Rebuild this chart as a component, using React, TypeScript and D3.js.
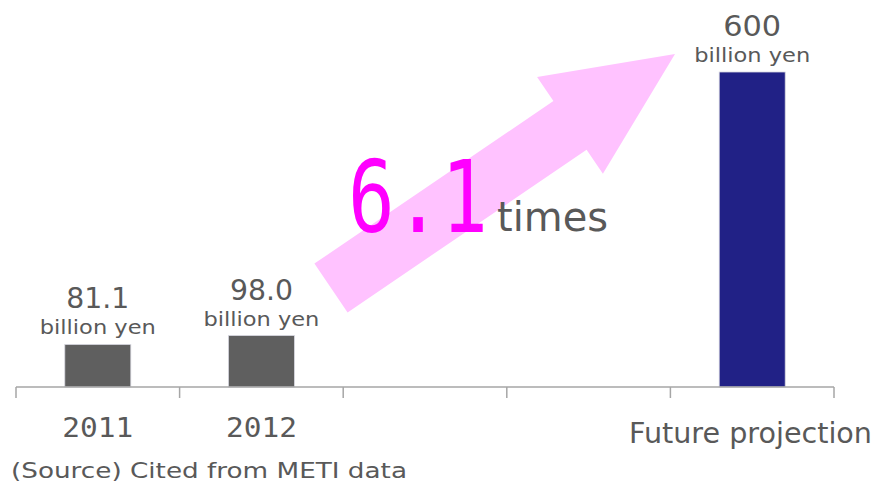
import React from "react";
import * as d3 from "d3";

const categories = ["2011", "2012", "", "", "Future projection"];
const values: (number | null)[] = [81.1, 98.0, null, null, 600];
const valueLabels = ["81.1", "98.0", "", "", "600"];
const unitLabel = "billion yen";
const barColors = ["#5f5f5f", "#5f5f5f", "", "", "#212186"];
const multiplierText = "6.1";
const timesText = "times";
const sourceText = "(Source) Cited from METI data";

const W = 877;
const H = 486;
const TEXT = "#595959";

function arrowPath(tail: [number, number], tip: [number, number], shaftW: number, headW: number, headL: number) {
  const dx = tip[0] - tail[0];
  const dy = tip[1] - tail[1];
  const len = Math.hypot(dx, dy);
  const ux = dx / len, uy = dy / len;
  const px = -uy, py = ux;
  const bx = tip[0] - ux * headL, by = tip[1] - uy * headL;
  const pts: [number, number][] = [
    [tail[0] + px * shaftW / 2, tail[1] + py * shaftW / 2],
    [bx + px * shaftW / 2, by + py * shaftW / 2],
    [bx + px * headW / 2, by + py * headW / 2],
    tip,
    [bx - px * headW / 2, by - py * headW / 2],
    [bx - px * shaftW / 2, by - py * shaftW / 2],
    [tail[0] - px * shaftW / 2, tail[1] - py * shaftW / 2],
  ];
  return d3.line()(pts) + "Z";
}

export default function App() {
  const x = d3.scaleBand<number>().domain(d3.range(categories.length)).range([16, 834]).paddingInner(0).paddingOuter(0);
  const y = d3.scaleLinear().domain([0, 600]).range([387, 72]);
  const bw = x.bandwidth();
  const barW = 66;
  const baseY = y(0);
  const ticks = d3.range(categories.length + 1).map((i) => 16 + i * bw);
  const font = "'DejaVu Sans', Verdana, sans-serif";
  const mono = "'DejaVu Sans Mono', monospace";
  const adj = "spacingAndGlyphs";

  return (
    <svg width={W} height={H} style={{ position: "absolute", left: 0, top: 0, background: "#fff" }}>
      <path d={arrowPath([331, 288], [675, 54], 59, 117, 127)} fill="#ffc2ff" />
      {values.map((v, i) =>
        v == null ? null : (
          <g key={i}>
            <rect
              x={(x(i) as number) + bw / 2 - barW / 2}
              y={y(v)}
              width={barW}
              height={baseY - y(v)}
              fill={barColors[i]}
              stroke="#d8d8e0"
              strokeWidth={0.8}
            />
            <text
              x={(x(i) as number) + bw / 2 - (valueLabels[i].length > 3 ? 31.5 : 29)}
              y={y(v) - 36}
              fontFamily={font}
              fontSize={28}
              fill={TEXT}
              textLength={valueLabels[i].length > 3 ? 63 : 58}
              lengthAdjust={adj}
            >
              {valueLabels[i]}
            </text>
            <text
              x={(x(i) as number) + bw / 2 - 58}
              y={y(v) - 10}
              fontFamily={font}
              fontSize={20}
              fill={TEXT}
              textLength={116}
              lengthAdjust={adj}
            >
              {unitLabel}
            </text>
          </g>
        )
      )}
      <line x1={16} x2={834} y1={baseY} y2={baseY} stroke="#a6a6a6" strokeWidth={1.5} />
      {ticks.map((t, i) => (
        <line key={i} x1={t} x2={t} y1={baseY} y2={baseY + 11} stroke="#a6a6a6" strokeWidth={1.5} />
      ))}
      {categories.map((c, i) =>
        c === "" ? null : i < 2 ? (
          <text
            key={i}
            x={(x(i) as number) + bw / 2 - 35.5}
            y={437}
            fontFamily={mono}
            fontSize={27}
            fill={TEXT}
            textLength={71}
            lengthAdjust={adj}
          >
            {c}
          </text>
        ) : (
          <text key={i} x={629} y={443} fontFamily={font} fontSize={28} fill={TEXT} textLength={243} lengthAdjust={adj}>
            {c}
          </text>
        )
      )}
      <g transform="translate(348,232) scale(1,1.3)">
        <text x={0} y={0} fontFamily={mono} fontSize={77} fill="#ff00ff" textLength={140} lengthAdjust={adj}>
          {multiplierText}
        </text>
      </g>
      <text x={497} y={231} fontFamily={font} fontSize={40} fill={TEXT} textLength={111} lengthAdjust={adj}>
        {timesText}
      </text>
      <text x={11} y={478} fontFamily={font} fontSize={22} fill={TEXT} textLength={396} lengthAdjust={adj}>
        {sourceText}
      </text>
    </svg>
  );
}
